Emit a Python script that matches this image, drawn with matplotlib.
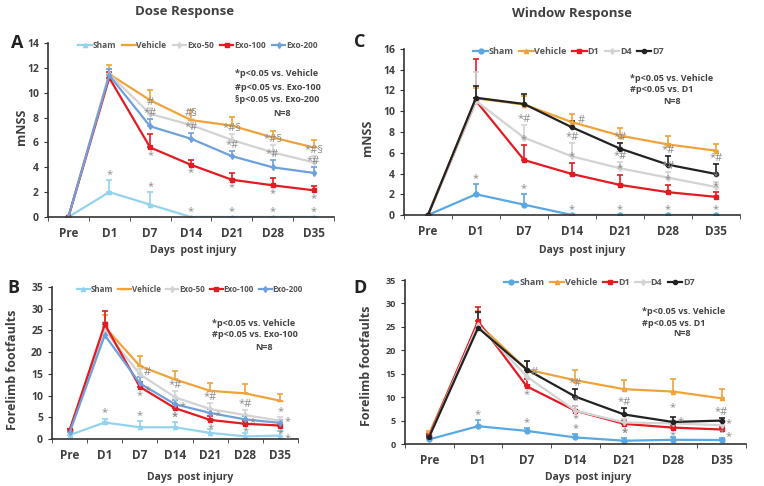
import matplotlib
matplotlib.use('Agg')
import matplotlib.pyplot as plt
from matplotlib.lines import Line2D
import numpy as np

plt.rcParams['font.family'] = ['Open Sans', 'DejaVu Sans']

# Daten
days = ['Pre', 'D1', 'D7', 'D14', 'D21', 'D28', 'D35']

# A: Dose Response, mNSS
a_sham = [0, 2.0, 1.0, 0, 0, 0, 0]
a_sham_err = [0, 1.0, 1.0, 0, 0, 0, 0]
a_vehicle = [0, 11.5, 9.4, 7.8, 7.35, 6.4, 5.6]
a_vehicle_err = [0, 0.7, 0.85, 0.8, 0.7, 0.55, 0.6]
a_exo50 = [0, 11.5, 8.3, 7.4, 6.2, 5.2, 4.4]
a_exo50_err = [0, 0.4, 0.5, 0.5, 0.5, 0.6, 0.5]
a_exo100 = [0, 11.2, 5.6, 4.2, 3.0, 2.55, 2.15]
a_exo100_err = [0, 0.5, 1.1, 0.35, 0.55, 0.55, 0.35]
a_exo200 = [0, 11.4, 7.3, 6.3, 4.9, 4.0, 3.55]
a_exo200_err = [0, 0.5, 0.6, 0.45, 0.4, 0.55, 0.5]

# B: Dose Response, Forelimb footfaults
b_sham = [0.9, 3.8, 2.7, 2.7, 1.4, 0.6, 0.8]
b_sham_err = [0, 0.9, 1.5, 1.2, 0.8, 0.8, 1.1]
b_vehicle = [2.0, 25.8, 16.8, 13.7, 11.1, 10.5, 8.8]
b_vehicle_err = [0.3, 2.8, 2.3, 1.9, 1.8, 2.1, 1.6]
b_exo50 = [1.6, 25.0, 14.9, 9.6, 6.9, 5.5, 4.2]
b_exo50_err = [0.3, 2.0, 1.3, 1.5, 1.3, 1.1, 0.9]
b_exo100 = [2.0, 26.4, 12.0, 7.1, 4.4, 3.5, 3.1]
b_exo100_err = [0.3, 3.0, 1.2, 0.9, 0.9, 0.7, 0.6]
b_exo200 = [1.5, 23.9, 12.8, 8.0, 6.0, 4.5, 3.7]
b_exo200_err = [0.3, 2.8, 1.5, 0.9, 0.8, 0.8, 0.7]

# C: Window Response, mNSS
c_sham = [0, 2.0, 1.0, 0, 0, 0, 0]
c_sham_err = [0, 1.0, 1.0, 0, 0, 0, 0]
c_vehicle = [0, 11.25, 10.65, 8.95, 7.65, 6.8, 6.2]
c_vehicle_err = [0, 1.0, 0.8, 0.75, 0.75, 0.8, 0.65]
c_d1 = [0, 11.0, 5.3, 3.95, 2.9, 2.2, 1.75]
c_d1_err = [0, 4.0, 1.4, 1.1, 1.0, 0.7, 0.5]
c_d4 = [0, 11.0, 7.45, 5.65, 4.5, 3.6, 2.7]
c_d4_err = [0, 2.8, 1.25, 1.3, 0.6, 0.5, 0.5]
c_d7 = [0, 11.3, 10.7, 8.45, 6.4, 4.85, 3.95]
c_d7_err = [0, 1.1, 1.0, 0.6, 0.5, 0.85, 0.95]

# D: Window Response, Forelimb footfaults
d_sham = [1.0, 3.8, 2.8, 1.4, 0.7, 0.9, 0.85]
d_sham_err = [0.2, 1.4, 0.6, 0.7, 0.5, 0.5, 0.4]
d_vehicle = [2.3, 25.7, 15.9, 13.6, 11.7, 11.2, 9.75]
d_vehicle_err = [0.5, 2.6, 1.8, 2.2, 1.9, 2.7, 2.0]
d_d1 = [1.8, 26.2, 12.3, 7.1, 4.3, 3.5, 3.1]
d_d1_err = [0.3, 3.0, 1.5, 1.0, 0.8, 0.6, 0.5]
d_d4 = [1.6, 25.5, 14.4, 7.1, 4.6, 4.4, 4.0]
d_d4_err = [0.3, 2.5, 1.5, 1.0, 0.8, 0.7, 0.6]
d_d7 = [1.6, 24.8, 15.9, 10.1, 6.3, 4.7, 5.0]
d_d7_err = [0.3, 3.3, 1.8, 1.6, 1.3, 1.0, 0.6]

# Signifikanz-Markierungen: (Serie, Tag-Index, Text, Position)
a_marks = [('Sham', 1, '*', 'top'), ('Sham', 2, '*', 'top'), ('Sham', 3, '*', 'top'),
           ('Sham', 4, '*', 'top'), ('Sham', 5, '*', 'top'), ('Sham', 6, '*', 'top'),
           ('Exo-100', 2, '*', 'below'), ('Exo-100', 3, '*', 'below'), ('Exo-100', 4, '*', 'below'),
           ('Exo-100', 5, '*', 'below'), ('Exo-100', 6, '*', 'below'),
           ('Exo-200', 2, '*#', 'top'), ('Exo-200', 3, '*#', 'top'), ('Exo-200', 4, '*#', 'top'),
           ('Exo-200', 5, '*#', 'top'), ('Exo-200', 6, '*#', 'top'),
           ('Exo-50', 2, '#', 'top'), ('Exo-50', 3, '#§', 'top'), ('Exo-50', 4, '*#§', 'top'),
           ('Exo-50', 5, '*#§', 'top'), ('Exo-50', 6, '*#§', 'top')]
b_marks = [('Sham', 1, '*', 'top'), ('Sham', 2, '*', 'top'), ('Sham', 3, '*', 'top'),
           ('Sham', 6, '*', 'right'),
           ('Exo-50', 2, '#', 'rhigh'), ('Exo-50', 3, '*#', 'top'), ('Exo-50', 4, '*#', 'top'),
           ('Exo-50', 5, '*#', 'top'), ('Exo-50', 6, '*', 'top'),
           ('Exo-200', 2, '*', 'rlow'), ('Exo-200', 3, '*', 'right'), ('Exo-200', 4, '*', 'right'),
           ('Exo-200', 5, '*', 'right'), ('Exo-200', 6, '*', 'rhigh'),
           ('Exo-100', 2, '*', 'below'), ('Exo-100', 3, '*', 'below'), ('Exo-100', 4, '*', 'below'),
           ('Exo-100', 5, '*', 'below'), ('Exo-100', 6, '*', 'below')]
c_marks = [('Sham', 1, '*', 'top'), ('Sham', 2, '*', 'top'), ('Sham', 3, '*', 'top'),
           ('Sham', 4, '*', 'top'), ('Sham', 5, '*', 'top'), ('Sham', 6, '*', 'top'),
           ('D1', 2, '*', 'top'), ('D1', 3, '*', 'top'), ('D1', 4, '*', 'top'),
           ('D1', 5, '*', 'top'), ('D1', 6, '*', 'top'),
           ('D4', 2, '*#', 'top'), ('D4', 3, '*#', 'top'), ('D4', 4, '*#', 'top'),
           ('D4', 5, '*#', 'top'), ('D4', 6, '*', 'top'),
           ('D7', 3, '#', 'rup'), ('D7', 4, '*#', 'top'), ('D7', 5, '*#', 'top'),
           ('D7', 6, '*#', 'top')]
d_marks = [('Sham', 1, '*', 'top'), ('Sham', 2, '*', 'top'), ('Sham', 3, '*', 'top'),
           ('Sham', 4, '*', 'top'), ('Sham', 6, '*', 'top'),
           ('D1', 2, '*', 'below'), ('D1', 3, '*', 'below'), ('D1', 4, '*', 'below'),
           ('D1', 5, '*', 'below'), ('D1', 6, '*', 'rlow'),
           ('D4', 3, '*', 'top'), ('D4', 5, '*', 'rhigh'), ('D4', 6, '*', 'rhigh'),
           ('D7', 2, '#', 'right'), ('D7', 3, '*#', 'top'), ('D7', 4, '*#', 'top'),
           ('D7', 5, '*', 'tophigh'), ('D7', 6, '*#', 'top')]

# Farben
c_lightblue = '#94d3ef'
c_orange = '#f0a33a'
c_gray = '#d3d3d3'
c_red = '#e31a22'
c_blue = '#6fa0dc'
c_skyblue = '#59a8e3'
c_black = '#222222'
txt = '#404040'
mark_col = '#8a8a8a'

W, H = 764, 486
fig = plt.figure(figsize=(W / 100, H / 100), dpi=100)


def px(x, y):
    return x / W, 1 - y / H


# Versatz der Markierungen in Punkten
offsets = {'top': ((0, 0), 'center', 'bottom'),
           'tophigh': ((0, 3), 'center', 'bottom'),
           'below': ((0, -2), 'center', 'top'),
           'right': ((3, -2), 'left', 'center'),
           'rhigh': ((3, 1), 'left', 'center'),
           'rup': ((4, 5), 'left', 'center'),
           'rlow': ((3, -5), 'left', 'center')}


def panel(rect, series, ymax, ystep, marks, leg_size, leg_sp, leg_x, ytick_size):
    ax = fig.add_axes(rect)
    x = np.arange(len(days))
    lookup = {}
    handles = []
    for name, vals, errs, col, mk, ms in series:
        vals = np.array(vals)
        errs = np.array(errs)
        lookup[name] = (vals, errs)
        ax.errorbar(x, vals, yerr=[np.zeros_like(errs), errs], color=col, lw=1.6,
                    marker=mk, ms=ms, capsize=2, elinewidth=1.2, capthick=1.2)
        handles.append(Line2D([0], [0], color=col, lw=1.6, marker=mk, ms=ms, label=name))
    ax.set_xlim(-0.5, 6.32)
    ax.set_ylim(0, ymax)
    ax.set_yticks(np.arange(0, ymax + 0.01, ystep))
    ax.set_xticks(x)
    ax.set_xticklabels(days)
    ax.set_xticks(np.arange(-0.5, 6.6, 1), minor=True)
    ax.tick_params(axis='x', which='major', length=0, pad=7, labelsize=8.5, labelcolor=txt)
    ax.tick_params(axis='x', which='minor', length=3, direction='out', color='#333333')
    ax.tick_params(axis='y', length=3, direction='out', labelsize=ytick_size, labelcolor=txt,
                   color='#333333')
    for lab in ax.get_xticklabels() + ax.get_yticklabels():
        lab.set_fontweight('bold')
    for s in ['top', 'right']:
        ax.spines[s].set_visible(False)
    for s in ['left', 'bottom']:
        ax.spines[s].set_color('#333333')
        ax.spines[s].set_linewidth(1.2)
    leg = ax.legend(handles=handles, loc='center', bbox_to_anchor=(leg_x, 0.985), ncol=5,
                    frameon=False, fontsize=leg_size, handlelength=1.6, columnspacing=leg_sp,
                    handletextpad=0.1, borderaxespad=0)
    for t in leg.get_texts():
        t.set_color('#555555')
        t.set_fontweight('bold')
    for name, i, text, where in marks:
        vals, errs = lookup[name]
        off, ha, va = offsets[where]
        y = vals[i] + errs[i] if where.startswith('top') else vals[i]
        ax.annotate(text, (i, y), xytext=off, textcoords='offset points',
                    ha=ha, va=va, fontsize=8, color=mark_col)
    return ax


# Panel A
ax_a = panel([0.0628, 0.5535, 0.3743, 0.3580],
             [('Sham', a_sham, a_sham_err, c_lightblue, '^', 3),
              ('Vehicle', a_vehicle, a_vehicle_err, c_orange, '_', 4),
              ('Exo-50', a_exo50, a_exo50_err, c_gray, 'd', 3),
              ('Exo-100', a_exo100, a_exo100_err, c_red, 's', 3.5),
              ('Exo-200', a_exo200, a_exo200_err, c_blue, 'd', 3)],
             14, 2, a_marks, 6, 0.75, 0.525, 7.5)

# Panel C
ax_c = panel([0.5288, 0.5576, 0.4398, 0.3416],
             [('Sham', c_sham, c_sham_err, c_skyblue, 'o', 3.5),
              ('Vehicle', c_vehicle, c_vehicle_err, c_orange, '^', 3),
              ('D1', c_d1, c_d1_err, c_red, 's', 3.5),
              ('D4', c_d4, c_d4_err, c_gray, 'd', 3),
              ('D7', c_d7, c_d7_err, c_black, 'o', 3)],
             16, 2, c_marks, 6.5, 0.6, 0.49, 7.5)

# Panel B
ax_b = panel([0.0681, 0.0967, 0.3220, 0.3128],
             [('Sham', b_sham, b_sham_err, c_lightblue, '^', 3),
              ('Vehicle', b_vehicle, b_vehicle_err, c_orange, '_', 4),
              ('Exo-50', b_exo50, b_exo50_err, c_gray, 'd', 3),
              ('Exo-100', b_exo100, b_exo100_err, c_red, 's', 3.5),
              ('Exo-200', b_exo200, b_exo200_err, c_blue, 'd', 3)],
             35, 5, b_marks, 5.8, 0.6, 0.56, 7.5)

# Panel D
ax_d = panel([0.5301, 0.0864, 0.4463, 0.3374],
             [('Sham', d_sham, d_sham_err, c_skyblue, 'o', 3.5),
              ('Vehicle', d_vehicle, d_vehicle_err, c_orange, '^', 3),
              ('D1', d_d1, d_d1_err, c_red, 's', 3.5),
              ('D4', d_d4, d_d4_err, c_gray, 'd', 3),
              ('D7', d_d7, d_d7_err, c_black, 'o', 3)],
             35, 5, d_marks, 6.5, 0.6, 0.57, 6.5)

# Titel, Buchstaben, Achsentitel
fig.text(*px(185, 12), 'Dose Response', ha='center', va='center', fontsize=9.5, fontweight='bold', color=txt)
fig.text(*px(572, 14), 'Window Response', ha='center', va='center', fontsize=9.5, fontweight='bold', color=txt)
for lx, ly, letter in [(17, 43, 'A'), (360, 42, 'C'), (13, 288, 'B'), (360, 288, 'D')]:
    fig.text(*px(lx, ly), letter, ha='center', va='center', fontsize=13, fontweight='bold', color='#222222')

for cx, cy, label in [(22, 127, 'mNSS'), (368, 138, 'mNSS'),
                      (13, 370, 'Forelimb footfaults'), (367, 366, 'Forelimb footfaults')]:
    fig.text(*px(cx, cy), label, rotation=90, ha='center', va='center', fontsize=9,
             fontweight='bold', color=txt)

for cx, cy in [(193, 250), (582, 250), (190, 477), (588, 477)]:
    fig.text(*px(cx, cy), 'Days  post injury', ha='center', va='center', fontsize=7.5,
             fontweight='bold', color=txt)

# Statistik-Hinweise
stat = dict(fontsize=6.5, fontweight='bold', color='#444444', va='center', ha='left')
for x0, y0, lines, nx, ny in [
        (235, 74, ['*p<0.05 vs. Vehicle', '#p<0.05 vs. Exo-100', '§p<0.05 vs. Exo-200'], 273, 113),
        (630, 78, ['*p<0.05 vs. Vehicle', '#p<0.05 vs. D1'], 663, 101),
        (212, 323, ['*p<0.05 vs. Vehicle', '#p<0.05 vs. Exo-100'], 255, 347),
        (642, 312, ['*p<0.05 vs. Vehicle', '#p<0.05 vs. D1'], 673, 333)]:
    step = 13 if len(lines) == 3 else (12 if y0 < 200 else 11.5)
    for k, line in enumerate(lines):
        fig.text(*px(x0, y0 + k * step), line, **stat)
    fig.text(*px(nx, ny), 'N=8', **stat)

fig.savefig('out.png', dpi=100)
